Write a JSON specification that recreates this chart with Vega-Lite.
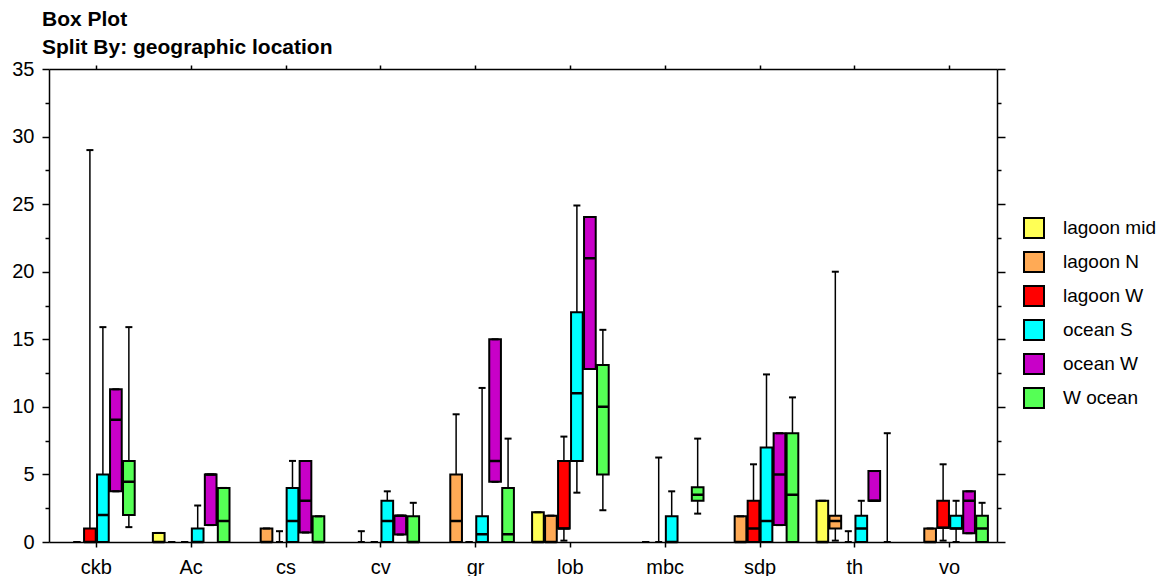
{
  "$schema": "https://vega.github.io/schema/vega-lite/v6.json",
  "width": 948,
  "height": 473,
  "autosize": "none",
  "padding": {"left": 49, "top": 69, "right": 167, "bottom": 34},
  "background": "white",
  "title": {
    "text": ["Box Plot", "Split By: geographic location"],
    "anchor": "start",
    "frame": "group",
    "dx": -7,
    "fontSize": 21,
    "fontWeight": "bold",
    "font": "Liberation Sans",
    "color": "black",
    "lineHeight": 28,
    "offset": 1
  },
  "config": {
    "view": {"stroke": null},
    "font": "Liberation Sans",
    "axis": {
      "domainColor": "black",
      "domainWidth": 1.5,
      "tickColor": "black",
      "tickWidth": 1.5,
      "labelColor": "black",
      "labelFont": "Liberation Sans",
      "labelFontSize": 20,
      "grid": false,
      "title": null
    },
    "legend": {
      "orient": "none",
      "legendX": 974,
      "legendY": 148,
      "padding": 0,
      "symbolType": "square",
      "symbolSize": 400,
      "symbolStrokeColor": "black",
      "symbolStrokeWidth": 2,
      "symbolOpacity": 1,
      "labelFontSize": 19,
      "labelFont": "Liberation Sans",
      "labelColor": "black",
      "labelOffset": 18,
      "rowPadding": 6
    }
  },
  "data": {
    "values": [
      {"site": "ckb", "location": "lagoon N", "min": 0, "q1": 0, "median": 0, "q3": 0, "max": 0},
      {"site": "ckb", "location": "lagoon W", "min": 0, "q1": 0, "median": 0, "q3": 1, "max": 29},
      {"site": "ckb", "location": "ocean S", "min": 0, "q1": 0, "median": 2, "q3": 5, "max": 15.9},
      {"site": "ckb", "location": "ocean W", "min": 3.75, "q1": 3.75, "median": 9.05, "q3": 11.3, "max": 11.3},
      {"site": "ckb", "location": "W ocean", "min": 1.1, "q1": 2, "median": 4.45, "q3": 6, "max": 15.9},

      {"site": "Ac", "location": "lagoon mid", "min": 0, "q1": 0, "median": 0, "q3": 0.67, "max": 0.67},
      {"site": "Ac", "location": "lagoon N", "min": 0, "q1": 0, "median": 0, "q3": 0, "max": 0},
      {"site": "Ac", "location": "lagoon W", "min": 0, "q1": 0, "median": 0, "q3": 0, "max": 0},
      {"site": "Ac", "location": "ocean S", "min": 0, "q1": 0, "median": 0, "q3": 1, "max": 2.7},
      {"site": "Ac", "location": "ocean W", "min": 1.25, "q1": 1.25, "median": 5, "q3": 5, "max": 5},
      {"site": "Ac", "location": "W ocean", "min": 0, "q1": 0, "median": 1.55, "q3": 4, "max": 4},

      {"site": "cs", "location": "lagoon N", "min": 0, "q1": 0, "median": 0, "q3": 1, "max": 1},
      {"site": "cs", "location": "lagoon W", "min": 0, "q1": 0, "median": 0, "q3": 0, "max": 0.8},
      {"site": "cs", "location": "ocean S", "min": 0, "q1": 0, "median": 1.55, "q3": 4, "max": 6},
      {"site": "cs", "location": "ocean W", "min": 0.7, "q1": 0.7, "median": 3.05, "q3": 6, "max": 6},
      {"site": "cs", "location": "W ocean", "min": 0, "q1": 0, "median": 0, "q3": 1.9, "max": 1.9},

      {"site": "cv", "location": "lagoon N", "min": 0, "q1": 0, "median": 0, "q3": 0, "max": 0.8},
      {"site": "cv", "location": "lagoon W", "min": 0, "q1": 0, "median": 0, "q3": 0, "max": 0},
      {"site": "cv", "location": "ocean S", "min": 0, "q1": 0, "median": 1.55, "q3": 3.05, "max": 3.75},
      {"site": "cv", "location": "ocean W", "min": 0.55, "q1": 0.55, "median": 1.95, "q3": 1.95, "max": 1.95},
      {"site": "cv", "location": "W ocean", "min": 0, "q1": 0, "median": 0, "q3": 1.9, "max": 2.9},

      {"site": "gr", "location": "lagoon N", "min": 0, "q1": 0, "median": 1.55, "q3": 5, "max": 9.45},
      {"site": "gr", "location": "lagoon W", "min": 0, "q1": 0, "median": 0, "q3": 0, "max": 0},
      {"site": "gr", "location": "ocean S", "min": 0, "q1": 0, "median": 0.58, "q3": 1.9, "max": 11.4},
      {"site": "gr", "location": "ocean W", "min": 4.45, "q1": 4.45, "median": 6, "q3": 15, "max": 15},
      {"site": "gr", "location": "W ocean", "min": 0, "q1": 0, "median": 0.58, "q3": 4, "max": 7.65},

      {"site": "lob", "location": "lagoon mid", "min": 0, "q1": 0, "median": 0, "q3": 2.2, "max": 2.2},
      {"site": "lob", "location": "lagoon N", "min": 0, "q1": 0, "median": 0, "q3": 1.95, "max": 1.95},
      {"site": "lob", "location": "lagoon W", "min": 0.1, "q1": 1, "median": 1, "q3": 6, "max": 7.8},
      {"site": "lob", "location": "ocean S", "min": 3.65, "q1": 6, "median": 11, "q3": 17, "max": 24.9},
      {"site": "lob", "location": "ocean W", "min": 12.8, "q1": 12.8, "median": 21, "q3": 24.05, "max": 24.05},
      {"site": "lob", "location": "W ocean", "min": 2.35, "q1": 5, "median": 10, "q3": 13.1, "max": 15.7},

      {"site": "mbc", "location": "lagoon N", "min": 0, "q1": 0, "median": 0, "q3": 0, "max": 0},
      {"site": "mbc", "location": "lagoon W", "min": 0, "q1": 0, "median": 0, "q3": 0, "max": 6.25},
      {"site": "mbc", "location": "ocean S", "min": 0, "q1": 0, "median": 0, "q3": 1.9, "max": 3.75},
      {"site": "mbc", "location": "W ocean", "min": 2.1, "q1": 3.05, "median": 3.5, "q3": 4.05, "max": 7.65},

      {"site": "sdp", "location": "lagoon N", "min": 0, "q1": 0, "median": 0, "q3": 1.9, "max": 1.9},
      {"site": "sdp", "location": "lagoon W", "min": 0, "q1": 0, "median": 1, "q3": 3.05, "max": 5.75},
      {"site": "sdp", "location": "ocean S", "min": 0, "q1": 0, "median": 1.55, "q3": 7, "max": 12.4},
      {"site": "sdp", "location": "ocean W", "min": 1.25, "q1": 1.25, "median": 5, "q3": 8.05, "max": 8.05},
      {"site": "sdp", "location": "W ocean", "min": 0, "q1": 0, "median": 3.5, "q3": 8.05, "max": 10.7},

      {"site": "th", "location": "lagoon mid", "min": 0, "q1": 0, "median": 0, "q3": 3.05, "max": 3.05},
      {"site": "th", "location": "lagoon N", "min": 0.1, "q1": 1, "median": 1.55, "q3": 1.95, "max": 20},
      {"site": "th", "location": "lagoon W", "min": 0, "q1": 0, "median": 0, "q3": 0, "max": 0.8},
      {"site": "th", "location": "ocean S", "min": 0, "q1": 0, "median": 1, "q3": 1.95, "max": 3.05},
      {"site": "th", "location": "ocean W", "min": 3.05, "q1": 3.05, "median": 3.05, "q3": 5.25, "max": 5.25},
      {"site": "th", "location": "W ocean", "min": 0, "q1": 0, "median": 0, "q3": 0, "max": 8.05},

      {"site": "vo", "location": "lagoon N", "min": 0, "q1": 0, "median": 0, "q3": 1, "max": 1},
      {"site": "vo", "location": "lagoon W", "min": 0.1, "q1": 1.05, "median": 1.05, "q3": 3.05, "max": 5.75},
      {"site": "vo", "location": "ocean S", "min": 0, "q1": 1, "median": 1, "q3": 1.95, "max": 3.05},
      {"site": "vo", "location": "ocean W", "min": 0.65, "q1": 0.65, "median": 3.05, "q3": 3.75, "max": 3.75},
      {"site": "vo", "location": "W ocean", "min": 0, "q1": 0, "median": 1, "q3": 1.95, "max": 2.9}
    ]
  },
  "encoding": {
    "x": {
      "field": "site", "type": "nominal",
      "sort": ["ckb", "Ac", "cs", "cv", "gr", "lob", "mbc", "sdp", "th", "vo"],
      "scale": {"paddingInner": 0, "paddingOuter": 0},
      "axis": null
    },
    "xOffset": {
      "field": "location", "type": "nominal",
      "sort": ["lagoon mid", "lagoon N", "lagoon W", "ocean S", "ocean W", "W ocean"],
      "scale": {"paddingInner": 0.1, "paddingOuter": 0.7}
    }
  },
  "layer": [
    {
      "mark": {"type": "rule", "stroke": "black", "strokeWidth": 1.5},
      "encoding": {
        "x": {
          "field": "site", "type": "nominal",
          "sort": ["ckb", "Ac", "cs", "cv", "gr", "lob", "mbc", "sdp", "th", "vo"],
          "scale": {"paddingInner": 0, "paddingOuter": 0},
          "axis": {"orient": "bottom", "tickSize": 5, "labelPadding": 10, "labelAngle": 0, "labelBaseline": "top"}
        },
        "y": {
          "field": "min", "type": "quantitative",
          "scale": {"domain": [0, 35], "nice": false, "zero": true},
          "axis": {
            "orient": "left",
            "values": [0, 2.5, 5, 7.5, 10, 12.5, 15, 17.5, 20, 22.5, 25, 27.5, 30, 32.5, 35],
            "labelExpr": "datum.value % 5 === 0 ? datum.label : ''",
            "tickSize": {"condition": {"test": "datum.value % 5 === 0", "value": 7}, "value": 4},
            "labelPadding": 8,
            "labelFlush": false,
            "labelOverlap": false
          }
        },
        "y2": {"field": "max"}
      }
    },
    {
      "mark": {"type": "bar", "stroke": "black", "opacity": 1},
      "encoding": {
        "y": {"field": "q1", "type": "quantitative", "axis": null},
        "y2": {"field": "q3"},
        "strokeWidth": {"condition": {"test": "datum.q3 === datum.q1", "value": 0}, "value": 2},
        "color": {
          "field": "location", "type": "nominal",
          "sort": ["lagoon mid", "lagoon N", "lagoon W", "ocean S", "ocean W", "W ocean"],
          "scale": {
            "domain": ["lagoon mid", "lagoon N", "lagoon W", "ocean S", "ocean W", "W ocean"],
            "range": ["#FFFF55", "#FFAA55", "#FF0000", "#00FFFF", "#C800C8", "#55FF55"]
          },
          "legend": {"title": null}
        }
      }
    },
    {
      "mark": {"type": "bar", "stroke": "black", "fillOpacity": 0},
      "encoding": {
        "y": {"field": "median", "type": "quantitative", "axis": null},
        "y2": {"field": "median"},
        "strokeWidth": {"condition": {"test": "datum.q3 === datum.q1", "value": 0}, "value": 2.5}
      }
    },
    {
      "mark": {"type": "tick", "color": "black", "size": 7, "thickness": 2, "opacity": 1},
      "encoding": {
        "x": {
          "field": "site", "type": "nominal",
          "sort": ["ckb", "Ac", "cs", "cv", "gr", "lob", "mbc", "sdp", "th", "vo"],
          "scale": {"paddingInner": 0, "paddingOuter": 0},
          "axis": {"orient": "top", "tickSize": 4, "labels": false}
        },
        "y": {
          "field": "max", "type": "quantitative",
          "axis": {
            "orient": "right",
            "values": [0, 2.5, 5, 7.5, 10, 12.5, 15, 17.5, 20, 22.5, 25, 27.5, 30, 32.5, 35],
            "labels": false,
            "tickSize": {"condition": {"test": "datum.value % 5 === 0", "value": 8}, "value": 4}
          }
        }
      }
    },
    {
      "mark": {"type": "tick", "color": "black", "size": 7, "thickness": 2, "opacity": 1},
      "encoding": {
        "y": {"field": "min", "type": "quantitative", "axis": null}
      }
    }
  ],
  "resolve": {"axis": {"x": "independent", "y": "independent"}}
}
